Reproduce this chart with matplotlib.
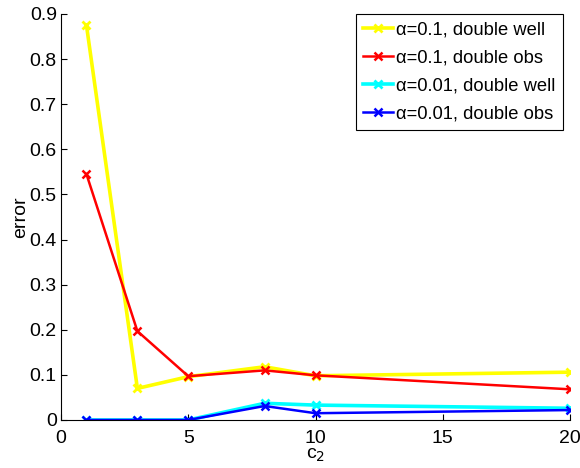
import matplotlib
matplotlib.use('Agg')
import matplotlib.pyplot as plt

plt.rcParams['font.family'] = ['Liberation Sans', 'DejaVu Sans']

c2 = [1, 3, 5, 8, 10, 20]
well_01 = [0.875, 0.070, 0.096, 0.118, 0.098, 0.106]
obs_01 = [0.545, 0.197, 0.097, 0.110, 0.099, 0.068]
well_001 = [0.0, 0.0, 0.0, 0.037, 0.033, 0.026]
obs_001 = [0.0, 0.0, 0.0, 0.031, 0.015, 0.022]

labels = ['α=0.1, double well', 'α=0.1, double obs',
          'α=0.01, double well', 'α=0.01, double obs']

fig = plt.figure(figsize=(5.8, 4.68), dpi=100)
ax = fig.add_axes([0.1052, 0.1026, 0.8776, 0.8675])

ax.plot(c2, well_01, color='#ffff00', lw=2.6, marker='x', ms=6, mew=2, label=labels[0])
ax.plot(c2, obs_01, color='#ff0000', lw=1.8, marker='x', ms=6, mew=1.8, label=labels[1])
ax.plot(c2, well_001, color='#00ffff', lw=2.6, marker='x', ms=6, mew=2, label=labels[2])
ax.plot(c2, obs_001, color='#0000ff', lw=1.8, marker='x', ms=6, mew=1.8, label=labels[3])

ax.set_xlim(0, 20)
ax.set_ylim(0, 0.9)
ax.set_xticks([0, 5, 10, 15, 20])
ax.set_yticks([i / 10 for i in range(10)])
ax.set_yticklabels(['0'] + ['0.%d' % i for i in range(1, 10)])
ax.tick_params(direction='in', length=4, labelsize=14, width=0.8)
ax.tick_params(axis='x', pad=7)
ax.tick_params(axis='y', pad=3)
ax.spines['top'].set_visible(False)
ax.spines['right'].set_visible(False)

ax.set_xlabel('c$_2$', fontsize=14, labelpad=0)
ax.set_ylabel('error', fontsize=14, labelpad=0)

leg = ax.legend(loc='upper right', fontsize=13.2, fancybox=False, framealpha=1,
                edgecolor='black', handlelength=1.6, handletextpad=0.2,
                borderpad=0.4, labelspacing=0.6, borderaxespad=0,
                bbox_to_anchor=(0.986, 1.0))
leg.get_frame().set_linewidth(0.8)

fig.savefig('out.png', dpi=100)
